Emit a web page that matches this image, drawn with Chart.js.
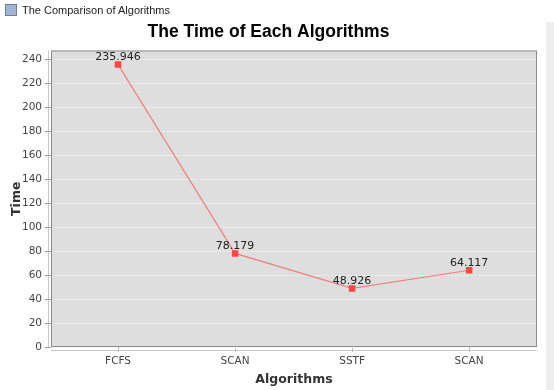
<!DOCTYPE html>
<html>
<head>
<meta charset="utf-8">
<script src="https://cdn.jsdelivr.net/npm/chart.js@4/dist/chart.umd.min.js"></script>
<style>
  html,body{margin:0;padding:0;background:#fff;}
  #wrap{position:relative;width:554px;height:390px;overflow:hidden;}
  #win{position:absolute;left:22px;top:4px;font:11px "Liberation Sans",Arial,sans-serif;color:#222;}
  #icon{position:absolute;left:5px;top:4px;width:12px;height:12px;background:#9fb6d6;border:1px solid #6b7f99;box-sizing:border-box;}
  #strip{position:absolute;left:546px;top:22px;width:8px;height:368px;background:#eeeeee;}
  canvas{position:absolute;left:0;top:0;}
</style>
</head>
<body>
<div id="wrap">
  <canvas id="c" width="554" height="390"></canvas>
  <div id="icon"></div>
  <div id="win">The Comparison of Algorithms</div>
  <div id="strip"></div>
</div>
<script>
const categories = ["FCFS", "SCAN", "SSTF", "SCAN"];
const times = [235.946, 78.179, 48.926, 64.117];
const valueLabels = ["235.946", "78.179", "48.926", "64.117"];
const yMax = 247.74;

const plotBg = {
  id: 'plotBg',
  beforeDraw(chart) {
    const {ctx, chartArea: a} = chart;
    ctx.save();
    ctx.fillStyle = '#dedede';
    ctx.fillRect(a.left, a.top, a.right - a.left, a.bottom - a.top);
    ctx.strokeStyle = '#c8c8c8';
    ctx.lineWidth = 1;
    ctx.beginPath();
    ctx.moveTo(a.left - 2.5, a.top);
    ctx.lineTo(a.left - 2.5, a.bottom);
    ctx.moveTo(a.left, a.bottom + 3.5);
    ctx.lineTo(a.right, a.bottom + 3.5);
    ctx.stroke();
    ctx.restore();
  },
  afterDatasetsDraw(chart) {
    const {ctx, chartArea: a} = chart;
    ctx.save();
    ctx.strokeStyle = '#8c8c8c';
    ctx.lineWidth = 1;
    ctx.strokeRect(a.left + 0.5, a.top + 0.5, a.right - a.left - 1, a.bottom - a.top - 1);
    const meta = chart.getDatasetMeta(0);
    ctx.font = '11px "DejaVu Sans", sans-serif';
    ctx.fillStyle = '#222';
    ctx.textAlign = 'center';
    ctx.textBaseline = 'bottom';
    meta.data.forEach((p, i) => {
      ctx.fillText(valueLabels[i], p.x, p.y - 2);
    });
    ctx.restore();
  }
};

new Chart(document.getElementById('c'), {
  type: 'line',
  data: {
    datasets: [{
      data: times.map((v, i) => ({x: i, y: v})),
      borderColor: '#f08080',
      borderWidth: 1.2,
      backgroundColor: '#ff4444',
      pointBackgroundColor: '#ff4444',
      pointBorderColor: '#ff4444',
      pointBorderWidth: 0,
      pointStyle: 'rect',
      pointRadius: 4.6,
      tension: 0
    }]
  },
  options: {
    responsive: false,
    animation: false,
    layout: {padding: {left: 0, right: 17, top: 0, bottom: 0}},
    plugins: {
      legend: {display: false},
      tooltip: {enabled: false},
      title: {
        display: true,
        text: 'The Time of Each Algorithms',
        color: '#000',
        font: {family: '"Liberation Sans", Arial, sans-serif', size: 17.5, weight: 'bold'},
        padding: {top: 22, bottom: 7.5}
      }
    },
    scales: {
      x: {
        type: 'linear',
        min: -0.573,
        max: 3.58,
        afterBuildTicks(s) { s.ticks = categories.map((c, i) => ({value: i})); },
        afterFit(s) { s.height = 43; },
        ticks: {
          callback: (v) => categories[v],
          color: '#444',
          font: {family: '"DejaVu Sans", sans-serif', size: 10.5},
          padding: 3,
          maxRotation: 0
        },
        grid: {drawOnChartArea: false, tickLength: 5, color: '#bbbbbb'},
        border: {display: false},
        title: {
          display: true,
          text: 'Algorithms',
          color: '#333',
          font: {family: '"DejaVu Sans", sans-serif', size: 12.5, weight: 'bold'},
          padding: {top: 4, bottom: 3}
        }
      },
      y: {
        min: 0,
        max: yMax,
        afterBuildTicks(s) {
          const t = [];
          for (let v = 0; v <= 240; v += 20) t.push({value: v});
          s.ticks = t;
        },
        afterFit(s) { s.width = 51; },
        ticks: {
          color: '#444',
          font: {family: '"DejaVu Sans", sans-serif', size: 10.5},
          padding: 3
        },
        grid: {
          color: '#f4f4f4',
          tickColor: '#999',
          tickLength: 6,
          tickBorderDash: [],
          lineWidth: 1
        },
        border: {display: false, dash: [2, 2]},
        title: {
          display: true,
          text: 'Time',
          color: '#333',
          font: {family: '"DejaVu Sans", sans-serif', size: 12.5, weight: 'bold'},
          padding: {top: 9, bottom: 0}
        }
      }
    }
  },
  plugins: [plotBg]
});
</script>
</body>
</html>
